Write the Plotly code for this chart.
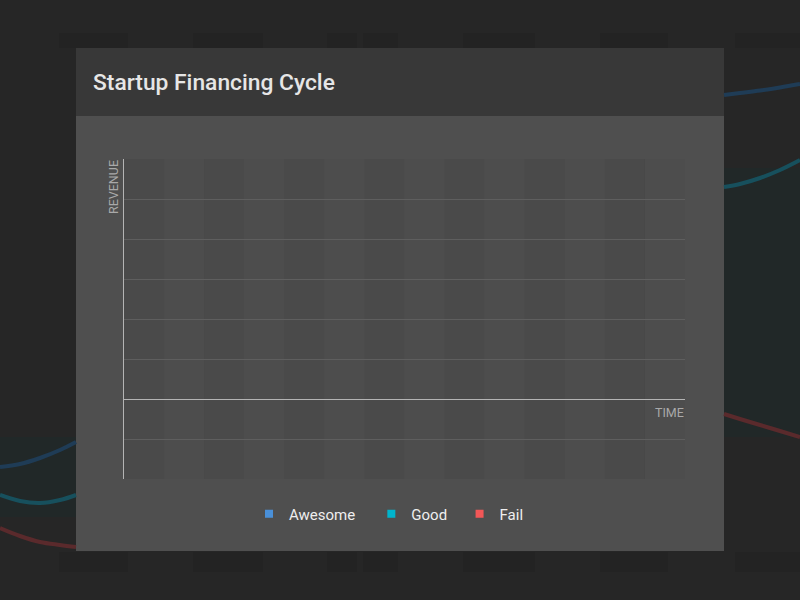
import plotly.graph_objects as go

# ---------------- data ----------------
title_text = "Startup Financing Cycle"
series_names = ["Awesome", "Good", "Fail"]
series_colors = ["#4a90d9", "#00b4cc", "#f25757"]
# the chart's series carry no drawn points yet (empty plot)
series_x = [[None], [None], [None]]
series_y = [[None], [None], [None]]

time_periods = list(range(15))          # 14 time columns on the x axis
revenue_min, revenue_max = -2, 6        # revenue axis range (gridline every 1)
x_label = "TIME"
y_label = "REVENUE"

# blurred backdrop echo of the chart (page pixels)
bg_left_x = [0, 20, 40, 60, 76]
bg_right_x = [724, 740, 760, 780, 800]
bg_awesome_left = [467, 464, 458, 450, 442]
bg_awesome_right = [95, 93, 90.5, 87.5, 84]
bg_good_left = [495, 501, 503, 500, 495]
bg_good_right = [187, 184, 178, 170, 160]
bg_fail_left = [528, 536, 542, 545, 547]
bg_fail_right = [414, 419, 425, 431, 437]
bg_curve_colors = ["#1f3c56", "#17505d", "#5a2a2c"]
backdrop_blocks = [(59, 128), (193, 263), (327, 357), (363, 398), (463, 535), (600, 668), (735, 800)]

W, H = 800, 600
card = dict(x0=76, x1=724, y0=48, y1=551, header_y1=116)
plot_px = dict(x0=124, x1=685, y0=159, y1=479)
legend_pad = [3, 2, 0]   # extra spacing after each legend entry (non-breaking spaces)

def px(x):
    return x / W

def py(y):
    return 1 - y / H

fig = go.Figure()

# backdrop curves (full-page axes), only outside the card
bg_sets = [(bg_awesome_left, bg_awesome_right), (bg_good_left, bg_good_right), (bg_fail_left, bg_fail_right)]
for (yl, yr), col in zip(bg_sets, bg_curve_colors):
    fig.add_trace(go.Scatter(
        x=bg_left_x + [None] + bg_right_x, y=yl + [None] + yr,
        mode="lines", line=dict(color=col, width=4, shape="spline"),
        xaxis="x", yaxis="y", showlegend=False, hoverinfo="skip"))

# real series (legend)
for name, col, xs, ys, pad in zip(series_names, series_colors, series_x, series_y, legend_pad):
    fig.add_trace(go.Scatter(
        x=xs, y=ys, name=name + "\u00a0" * pad, mode="markers",
        marker=dict(symbol="square", size=8, color=col),
        xaxis="x2", yaxis="y2"))

shapes = []
# backdrop tint regions
shapes.append(dict(type="rect", xref="paper", yref="paper", x0=px(724), x1=px(800), y0=py(437), y1=py(168),
                   fillcolor="#212828", line=dict(width=0), layer="below"))
shapes.append(dict(type="rect", xref="paper", yref="paper", x0=px(0), x1=px(76), y0=py(517), y1=py(437),
                   fillcolor="#212828", line=dict(width=0), layer="below"))
for a, b in backdrop_blocks:
    for ya, yb in [(33, 48), (552, 572)]:
        shapes.append(dict(type="rect", xref="paper", yref="paper", x0=px(a), x1=px(b), y0=py(yb), y1=py(ya),
                           fillcolor="#232323", line=dict(width=0), layer="below"))
# card body + header
shapes.append(dict(type="rect", xref="paper", yref="paper", x0=px(card["x0"]), x1=px(card["x1"]),
                   y0=py(card["y1"]), y1=py(card["y0"]), fillcolor="#4f4f4f", line=dict(width=0), layer="below"))
shapes.append(dict(type="rect", xref="paper", yref="paper", x0=px(card["x0"]), x1=px(card["x1"]),
                   y0=py(card["header_y1"]), y1=py(card["y0"]), fillcolor="#383838", line=dict(width=0), layer="below"))
# alternating column bands in the plot area
for i in range(len(time_periods) - 1):
    shapes.append(dict(type="rect", xref="x2", yref="y2 domain", x0=time_periods[i], x1=time_periods[i + 1],
                       y0=0, y1=1, fillcolor="#4a4a4a" if i % 2 == 0 else "#4d4d4d",
                       line=dict(width=0), layer="below"))

annotations = [
    dict(text=title_text, xref="paper", yref="paper", x=px(91), y=py(83), xanchor="left", yanchor="middle",
         showarrow=False, font=dict(family="Roboto", size=22.8, weight=500, color="#e6e6e6")),
    dict(text=y_label, xref="paper", yref="paper", x=px(114), y=py(158), xanchor="center", yanchor="top",
         textangle=-90, showarrow=False, font=dict(family="Roboto", size=12.5, color="#a9a9a9")),
    dict(text=x_label, xref="paper", yref="paper", x=px(686), y=py(412), xanchor="right", yanchor="middle",
         showarrow=False, font=dict(family="Roboto", size=12.5, color="#a9a9a9")),
]

fig.update_layout(
    width=W, height=H, margin=dict(l=0, r=0, t=0, b=0),
    paper_bgcolor="#262626", plot_bgcolor="rgba(0,0,0,0)",
    xaxis=dict(domain=[0, 1], range=[0, W], visible=False, fixedrange=True),
    yaxis=dict(domain=[0, 1], range=[H, 0], visible=False, fixedrange=True),
    xaxis2=dict(domain=[px(plot_px["x0"]), px(plot_px["x1"])], range=[time_periods[0], time_periods[-1]],
                anchor="y2", showgrid=False, zeroline=False, showline=False, showticklabels=False, ticks=""),
    yaxis2=dict(domain=[py(plot_px["y1"]), py(plot_px["y0"])], range=[revenue_min, revenue_max], dtick=1,
                anchor="x2", showgrid=True, gridcolor="#5e5e5e", gridwidth=1,
                zeroline=True, zerolinecolor="#b4b4b4", zerolinewidth=1,
                showline=True, linecolor="#b4b4b4", linewidth=1, showticklabels=False, ticks=""),
    showlegend=True,
    legend=dict(orientation="h", x=px(249), y=py(514), xanchor="left", yanchor="middle",
                bgcolor="rgba(0,0,0,0)", font=dict(family="Roboto", size=15, color="#eeeeee")),
    shapes=shapes, annotations=annotations,
)

fig.write_html("out.html")
